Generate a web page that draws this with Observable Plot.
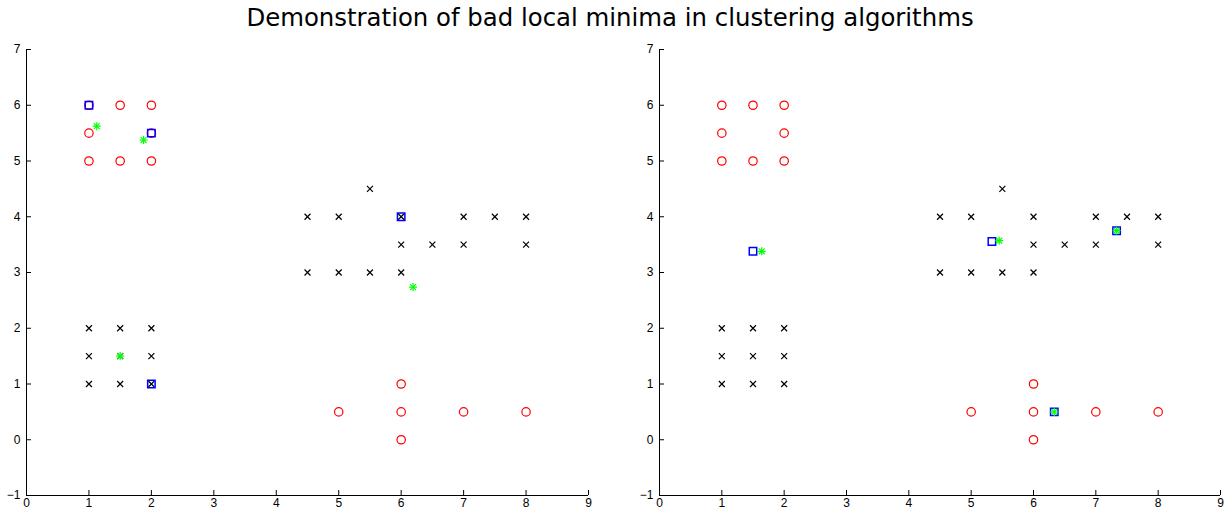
<!DOCTYPE html>
<html>
<head>
<meta charset="utf-8">
<script src="https://cdn.jsdelivr.net/npm/d3@7"></script>
<script src="https://cdn.jsdelivr.net/npm/@observablehq/plot@0.6"></script>
<style>
  html, body { margin: 0; padding: 0; background: #fff; }
  #title { height: 36px; line-height: 36px; text-align: center; font-family: "DejaVu Sans", sans-serif; font-size: 24.4px; color: #000; padding-right: 6px; }
  #row { display: flex; width: 1226px; }
</style>
</head>
<body>
<div id="title">Demonstration of bad local minima in clustering algorithms</div>
<div id="row"></div>
<script>
const titleText = "Demonstration of bad local minima in clustering algorithms";
const xTicks = [0, 1, 2, 3, 4, 5, 6, 7, 8, 9];
const yTicks = [-1, 0, 1, 2, 3, 4, 5, 6, 7];

// data class "o" (red circles)
const circleX = [1, 1.5, 2, 1, 2, 1, 1.5, 2, 6, 5, 6, 7, 8, 6];
const circleY = [6, 6, 6, 5.5, 5.5, 5, 5, 5, 1, 0.5, 0.5, 0.5, 0.5, 0];
// data class "x" (black crosses)
const crossX = [1, 1.5, 2, 1, 1.5, 2, 1, 1.5, 2, 5.5, 4.5, 5, 6, 7, 7.5, 8, 6, 6.5, 7, 8, 4.5, 5, 5.5, 6];
const crossY = [2, 2, 2, 1.5, 1.5, 1.5, 1, 1, 1, 4.5, 4, 4, 4, 4, 4, 4, 3.5, 3.5, 3.5, 3.5, 3, 3, 3, 3];

// left panel: centers (blue squares) and cluster means (green stars)
const leftSquareX = [1, 2, 6, 2];
const leftSquareY = [6, 5.5, 4, 1];
const leftStarX = [1.125, 1.875, 6.19, 1.5];
const leftStarY = [5.625, 5.375, 2.738, 1.5];

// right panel
const rightSquareX = [1.5, 5.333, 7.333, 6.333];
const rightSquareY = [3.382, 3.556, 3.75, 0.5];
const rightStarX = [1.64, 5.45, 7.333, 6.333];
const rightStarY = [3.38, 3.57, 3.75, 0.5];

const pts = (xs, ys) => xs.map((x, i) => ({x, y: ys[i]}));

function panel(sqX, sqY, stX, stY, marginLeft, marginRight) {
  return Plot.plot({
    width: 613,
    height: 476,
    marginTop: 13,
    marginBottom: 17,
    marginLeft,
    marginRight,
    style: {fontFamily: "'Liberation Sans', Arial, sans-serif", fontSize: "12px", color: "#000", background: "#fff"},
    x: {domain: [0, 9], ticks: xTicks},
    y: {domain: [-1, 7], ticks: yTicks},
    marks: [
      Plot.ruleX([0], {stroke: "#000", strokeWidth: 1}),
      Plot.ruleY([-1], {stroke: "#000", strokeWidth: 1}),
      Plot.axisX({ticks: xTicks, tickSize: -5, tickPadding: 8, fontSize: 12, stroke: "#000", fill: "#000", label: null}),
      Plot.axisY({ticks: yTicks, tickSize: -5, tickPadding: 11, fontSize: 12, stroke: "#000", fill: "#000", label: null}),
      Plot.dot(pts(circleX, circleY), {x: "x", y: "y", symbol: "circle", r: 4.2, stroke: "#ff0000", strokeWidth: 1.2, fill: "none"}),
      Plot.dot(pts(crossX, crossY), {x: "x", y: "y", symbol: "times", r: 2.8, stroke: "#000", strokeWidth: 1.2}),
      Plot.dot(pts(sqX, sqY), {x: "x", y: "y", symbol: "square", r: 4.2, stroke: "#0000ff", strokeWidth: 1.5, fill: "none"}),
      Plot.dot(pts(stX, stY), {x: "x", y: "y", symbol: "plus", r: 2.7, stroke: "#00ff00", strokeWidth: 1.2}),
      Plot.dot(pts(stX, stY), {x: "x", y: "y", symbol: "times", r: 2.8, stroke: "#00ff00", strokeWidth: 1.2})
    ]
  });
}

document.getElementById("title").textContent = titleText;
const row = document.getElementById("row");
row.appendChild(panel(leftSquareX, leftSquareY, leftStarX, leftStarY, 26, 25));
row.appendChild(panel(rightSquareX, rightSquareY, rightStarX, rightStarY, 46, 6));
</script>
</body>
</html>
